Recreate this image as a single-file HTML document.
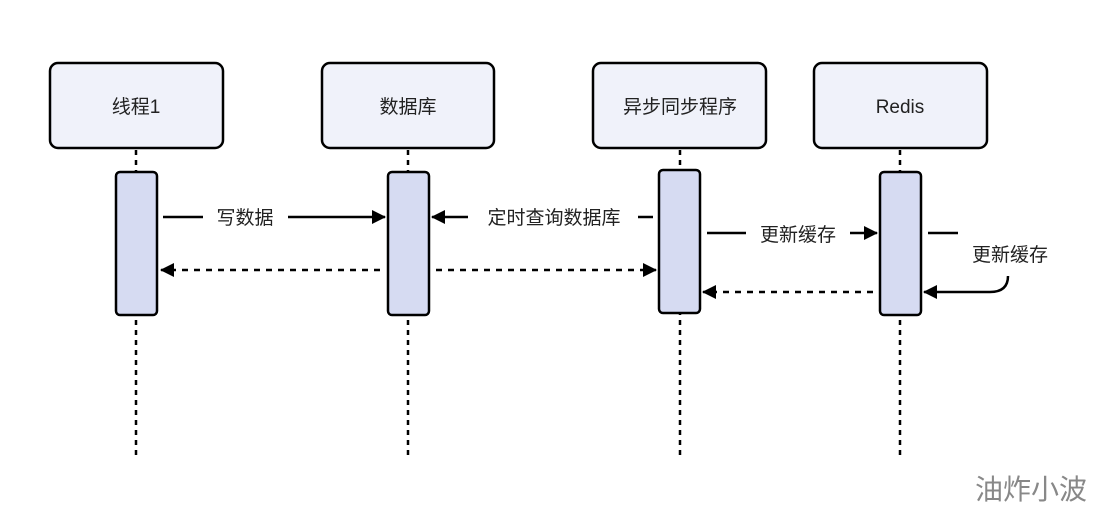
<!DOCTYPE html>
<html><head><meta charset="utf-8"><style>
body{margin:0;background:#fff;width:1102px;height:514px;overflow:hidden}
text{font-family:"Liberation Sans","Noto Sans CJK SC",sans-serif;fill:#222}
</style></head><body>
<svg width="1102" height="514" viewBox="0 0 1102 514">
<defs><marker id="a" markerWidth="14" markerHeight="14" refX="13" refY="7" orient="auto" markerUnits="userSpaceOnUse"><path d="M0,0L14,7L0,14Z" fill="#000"/></marker></defs>
<g stroke="#000" stroke-width="2.5" stroke-dasharray="5,5">
<line x1="136" y1="150" x2="136" y2="460"/><line x1="408" y1="150" x2="408" y2="460"/>
<line x1="680" y1="150" x2="680" y2="460"/><line x1="900" y1="150" x2="900" y2="460"/>
</g>
<g fill="#f0f2fa" stroke="#000" stroke-width="2.5">
<rect x="50" y="63" width="173" height="85" rx="8"/><rect x="322" y="63" width="172" height="85" rx="8"/>
<rect x="593" y="63" width="173" height="85" rx="8"/><rect x="814" y="63" width="173" height="85" rx="8"/>
</g>
<g font-size="19" text-anchor="middle">
<text x="136" y="113">线程1</text><text x="408" y="113">数据库</text>
<text x="680" y="113">异步同步程序</text><text x="900" y="113">Redis</text>
</g>
<g fill="#d6dbf2" stroke="#000" stroke-width="2.5">
<rect x="116" y="172" width="41" height="143" rx="4"/><rect x="388" y="172" width="41" height="143" rx="4"/>
<rect x="659" y="170" width="41" height="143" rx="4"/><rect x="880" y="172" width="41" height="143" rx="4"/>
</g>
<g stroke="#000" stroke-width="2.5" fill="none">
<line x1="163" y1="217" x2="203" y2="217"/><line x1="288" y1="217" x2="385" y2="217" marker-end="url(#a)"/>
<line x1="653" y1="217" x2="638" y2="217"/><line x1="468" y1="217" x2="432" y2="217" marker-end="url(#a)"/>
<line x1="707" y1="233" x2="746" y2="233"/><line x1="850" y1="233" x2="877" y2="233" marker-end="url(#a)"/>
<line x1="928" y1="233" x2="958" y2="233"/>
<path d="M1008,276 Q1008,292 990,292 L924,292" marker-end="url(#a)"/>
<g stroke-dasharray="6,6">
<line x1="380" y1="270" x2="161" y2="270" marker-end="url(#a)"/>
<line x1="436" y1="270" x2="656" y2="270" marker-end="url(#a)"/>
<line x1="873" y1="292" x2="703" y2="292" marker-end="url(#a)"/>
</g></g>
<g font-size="19" text-anchor="middle">
<text x="245" y="224">写数据</text><text x="554" y="224">定时查询数据库</text>
<text x="798" y="241">更新缓存</text><text x="1010" y="261">更新缓存</text>
</g>
<text x="1031" y="499" font-size="28" text-anchor="middle" style="fill:#888">油炸小波</text>
</svg></body></html>
